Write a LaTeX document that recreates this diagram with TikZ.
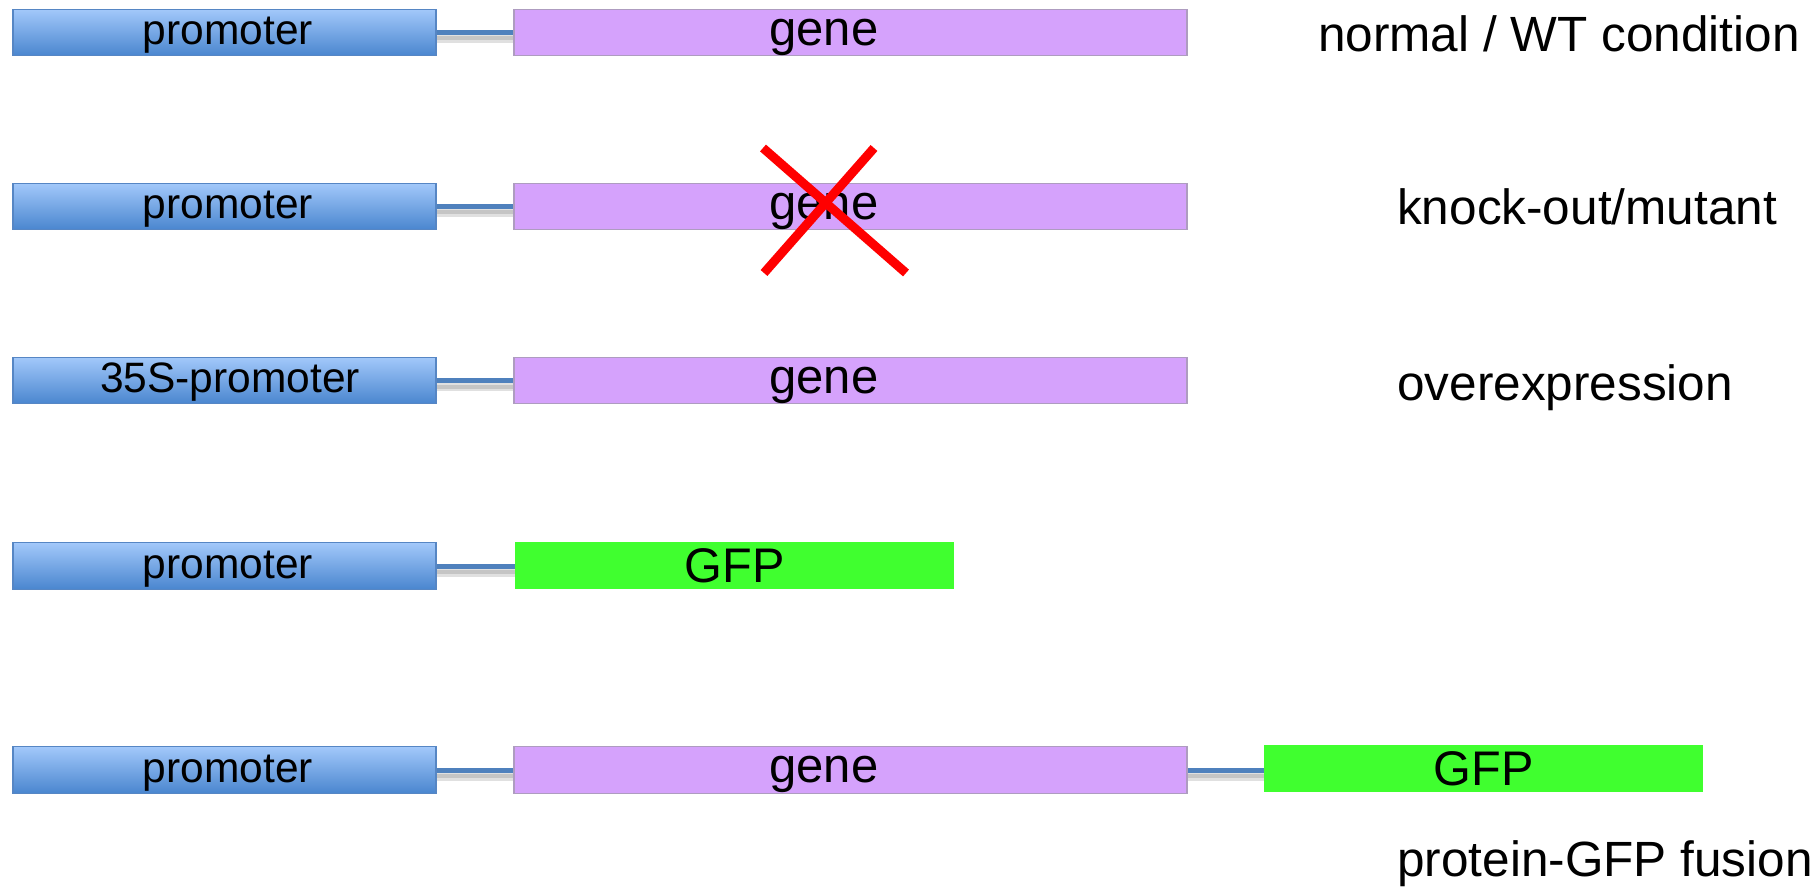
\documentclass[tikz,border=0pt]{standalone}
\usepackage{fontspec}
\setmainfont{Liberation Sans}
\definecolor{promtop}{HTML}{A2C8FA}
\definecolor{prombot}{HTML}{4A86CF}
\definecolor{promborder}{HTML}{5686C4}
\definecolor{genefill}{HTML}{D5A2FC}
\definecolor{geneborder}{HTML}{AE9CC0}
\definecolor{gfpfill}{HTML}{40FF2F}
\definecolor{linkcol}{HTML}{4F81BD}
\begin{document}
\begin{tikzpicture}[x=1pt,y=-1pt,
  promobox/.style={draw=promborder,line width=1.2pt,top color=promtop,bottom color=prombot,
    minimum width=423pt,minimum height=46.5pt,inner sep=0pt},
  promotext/.style={inner sep=0pt,text height=22pt,text depth=0pt,font=\fontsize{42.5}{50}\selectfont},
  genebox/.style={draw=geneborder,line width=1.2pt,fill=genefill,
    minimum width=673pt,minimum height=46.5pt,inner sep=0pt},
  gfpbox/.style={fill=gfpfill,minimum width=439pt,minimum height=47pt,inner sep=0pt,
    text height=34.8pt,text depth=0pt,font=\fontsize{48.6}{56}\selectfont},
  genetext/.style={inner sep=0pt,text height=25.4pt,text depth=0pt,font=\fontsize{49}{56}\selectfont},
  caption/.style={anchor=base west,inner sep=0pt,font=\fontsize{49.5}{58}\selectfont},
  link/.style={draw=linkcol,line width=5pt},
  linkshadow/.style={draw=black,opacity=0.12},
  crossline/.style={draw=red,line width=9pt}
]
\useasboundingbox (0,0) rectangle (1819,890);

% row 1
\node[promobox] (p1) at (224.5,32.5) {};
\node[promotext] (p1t) at (228,33.5) {promoter};
\node[genebox] (g1) at (850.5,32.5) {};
\node[genetext] (g1t) at (824,32.5) {gene};
\node[caption] (c1) at (1318,52) {normal / WT condition};

% row 2
\node[promobox] (p2) at (224.5,206.5) {};
\node[promotext] (p2t) at (228,207.5) {promoter};
\node[genebox] (g2) at (850.5,206.5) {};
\node[genetext] (g2t) at (824,206.5) {gene};
\node[caption] (c2) at (1397,225) {knock-out/mutant};

% row 3
\node[promobox] (p3) at (224.5,380.5) {};
\node[promotext] (p3t) at (230,381.5) {35S-promoter};
\node[genebox] (g3) at (850.5,380.5) {};
\node[genetext] (g3t) at (824,380.5) {gene};
\node[caption] (c3) at (1397,400) {overexpression};

% row 4
\node[promobox] (p4) at (224.5,566) {};
\node[promotext] (p4t) at (228,567) {promoter};
\node[gfpbox] (f4) at (734.5,565) {GFP};

% row 5
\node[promobox] (p5) at (224.5,770) {};
\node[promotext] (p5t) at (228,771) {promoter};
\node[genebox] (g5) at (850.5,770) {};
\node[genetext] (g5t) at (824,770) {gene};
\node[gfpbox] (f5) at (1483.5,768) {GFP};
\node[caption] (c5) at (1397,876) {protein-GFP fusion};

% connectors
\foreach \a/\b in {p1/g1,p2/g2,p3/g3,p4/f4,p5/g5,g5/f5}{
  \draw[linkshadow,line width=9pt] ([yshift=-6pt]\a.east) -- ([yshift=-6pt]\a.east -| \b.west);
  \draw[linkshadow,line width=4pt] ([yshift=-6pt]\a.east) -- ([yshift=-6pt]\a.east -| \b.west);
  \draw[link] (\a.east) -- (\a.east -| \b.west);
}

% cross
\coordinate (xa) at (763,148);
\coordinate (xb) at (906,273);
\coordinate (xc) at (874,148);
\coordinate (xd) at (764,273);
\draw[crossline] (xa) -- (xb);
\draw[crossline] (xc) -- (xd);
\end{tikzpicture}
\end{document}
